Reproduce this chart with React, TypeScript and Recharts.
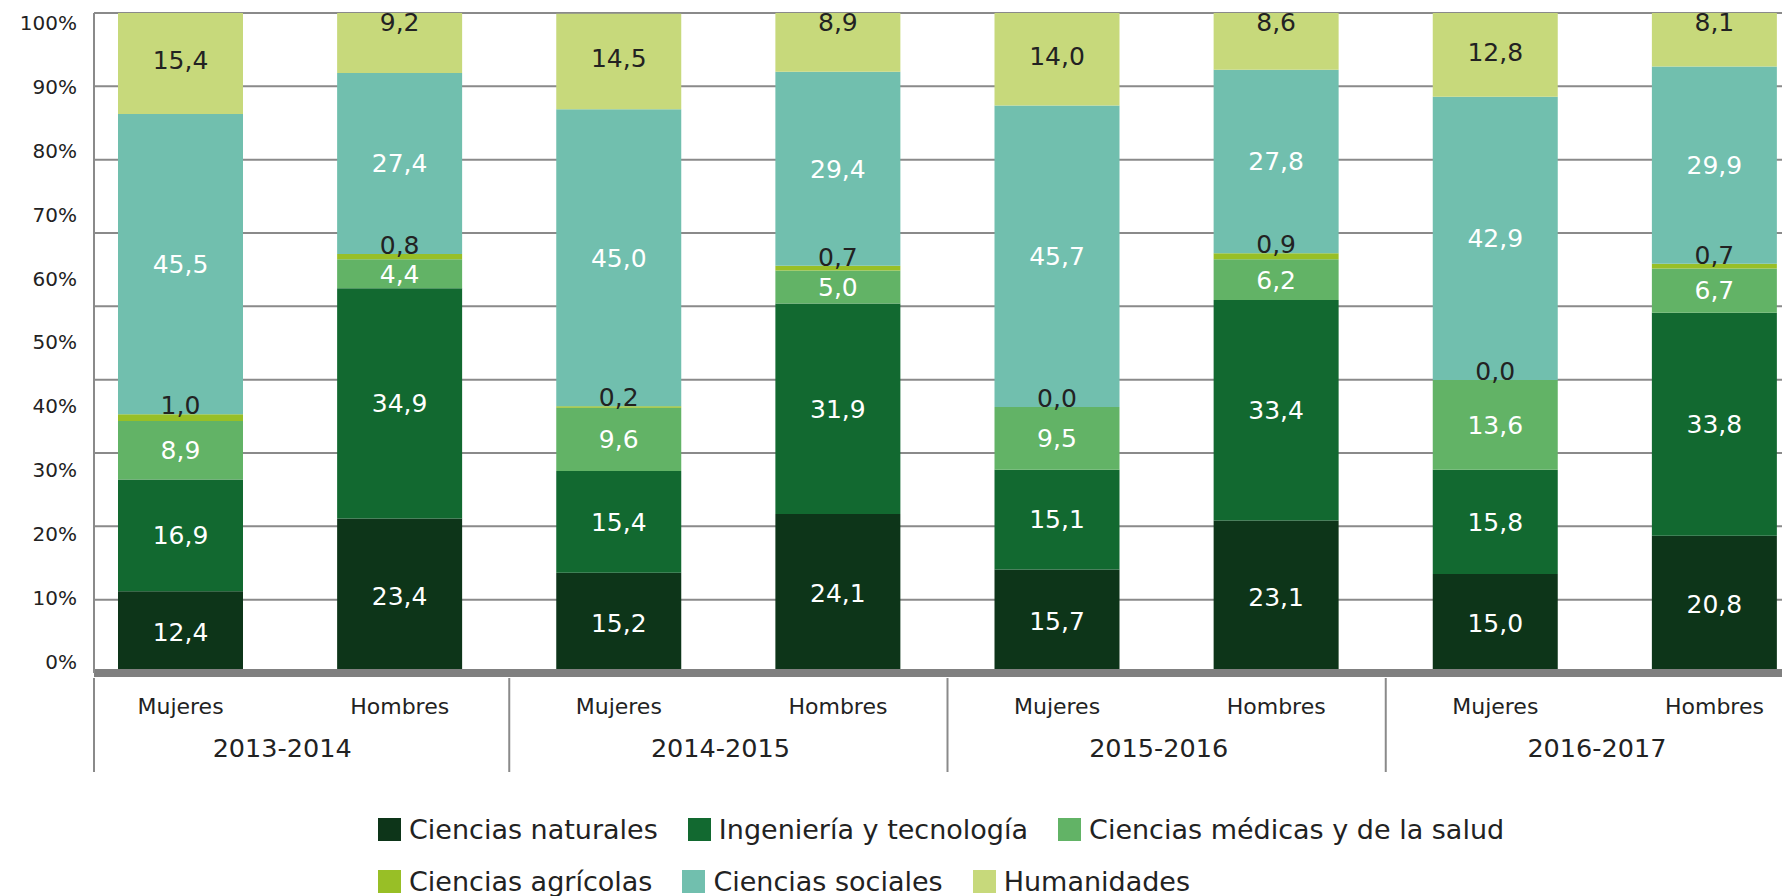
import { Bar, BarChart, CartesianGrid, LabelList, Legend, XAxis, YAxis } from "recharts";

// periods and the two bars drawn inside each one
const periodos = ["2013-2014", "2014-2015", "2015-2016", "2016-2017"];
const sexos = ["Mujeres", "Hombres"];

// % per field, order: M13, H13, M14, H14, M15, H15, M16, H16
const naturales = [12.4, 23.4, 15.2, 24.1, 15.7, 23.1, 15.0, 20.8];
const ingenieria = [16.9, 34.9, 15.4, 31.9, 15.1, 33.4, 15.8, 33.8];
const medicas = [8.9, 4.4, 9.6, 5.0, 9.5, 6.2, 13.6, 6.7];
const agricolas = [1.0, 0.8, 0.2, 0.7, 0.0, 0.9, 0.0, 0.7];
const sociales = [45.5, 27.4, 45.0, 29.4, 45.7, 27.8, 42.9, 29.9];
const humanidades = [15.4, 9.2, 14.5, 8.9, 14.0, 8.6, 12.8, 8.1];

const yTicks = [0, 10, 20, 30, 40, 50, 60, 70, 80, 90, 100];
const gridTicks = [0, 1, 2, 3, 4, 5, 6, 7, 8, 9];

const seriesKeys = ["naturales", "ingenieria", "medicas", "agricolas", "sociales", "humanidades"];
const seriesNames = [
	"Ciencias naturales",
	"Ingeniería y tecnología",
	"Ciencias médicas y de la salud",
	"Ciencias agrícolas",
	"Ciencias sociales",
	"Humanidades",
];
const seriesValues = [naturales, ingenieria, medicas, agricolas, sociales, humanidades];

const COLORS = ["#0d3519", "#126930", "#62b366", "#98bf26", "#71bfae", "#c7d97b"];
const TEXT = "#222222";
const GRID = "#8a8a8a";
const FONT = '"DejaVu Sans", sans-serif';
const LABEL_SIZE = 25;
const PAD_LEFT = -23; // first band starts left of the axis line in the original

const chartData = periodos.flatMap((periodo, p) =>
	sexos.map((sexo, s) => {
		const i = p * sexos.length + s;
		const row: any = { periodo, sexo };
		seriesKeys.forEach((key, k) => { row[key] = seriesValues[k][i]; });
		return row;
	})
);

const fmt = (v: any) => Number(v).toFixed(1).replace(".", ",");

const YearTick = (props: any) => {
	const { x, y, payload, index } = props;
	const half = payload?.offset ?? 0;
	const sepX = index === 0 ? x - half - PAD_LEFT : x - half;
	return (
		<g>
			<line x1={sepX} x2={sepX} y1={y - 61} y2={y + 33} stroke={GRID} strokeWidth={2} />
			<text x={x - 8} y={y} dy="0.71em" textAnchor="middle" fontSize={25.5} fill={TEXT}>
				{payload.value}
			</text>
		</g>
	);
};

// humanities labels: centred on the women's bars, tucked at the top of the men's
const HumanLabel = (props: any) => {
	const { x, y, width, height, value, index } = props;
	const cx = Number(x) + Number(width) / 2;
	const cy = index % 2 === 0 ? Number(y) + Number(height) / 2 - 3 : Number(y) + 9;
	return (
		<text x={cx} y={cy} dy="0.355em" textAnchor="middle" fontSize={LABEL_SIZE} fill={TEXT}>
			{fmt(value)}
		</text>
	);
};

// agricultural share sits on the bottom edge of the social-sciences block,
// so it still shows when the agricultural segment is 0
const AgriLabel = (props: any) => {
	const { x, y, width, height, value } = props;
	const cx = Number(x) + Number(width) / 2;
	const base = Number(y) + Number(height);
	return (
		<text x={cx} y={base} textAnchor="middle" fontSize={LABEL_SIZE} fill={TEXT}>
			{fmt(value)}
		</text>
	);
};

const renderLegend = () => {
	const items = seriesNames.map((name, i) => ({ name, color: COLORS[i] }));
	const rows = [items.slice(0, 3), items.slice(3)];
	return (
		<div style={{ height: 123, paddingTop: 45, paddingLeft: 378, boxSizing: "border-box", fontFamily: FONT }}>
			{rows.map((row, r) => (
				<div key={r} style={{ display: "flex", alignItems: "center", height: 23, marginBottom: r === 0 ? 29 : 0 }}>
					{row.map(item => (
						<div key={item.name} style={{ display: "flex", alignItems: "center", marginRight: 30 }}>
							<span style={{ display: "inline-block", width: 23, height: 23, background: item.color, marginRight: 8 }} />
							<span style={{ fontSize: 27, lineHeight: "23px", color: TEXT, whiteSpace: "nowrap" }}>{item.name}</span>
						</div>
					))}
				</div>
			))}
		</div>
	);
};

export default function App() {
	return (
		<div style={{ position: "fixed", left: 0, top: 0, width: 1782, height: 896, overflow: "hidden", background: "#fff", fontFamily: FONT }}>
			<BarChart width={1824} height={896} data={chartData} margin={{ top: 13, right: 0, bottom: 0, left: 0 }}>
				<CartesianGrid vertical={false} stroke={GRID} strokeWidth={2} />
				<XAxis
					dataKey="sexo"
					interval={0}
					height={52}
					padding={{ left: PAD_LEFT, right: 0 }}
					axisLine={{ stroke: "#808080", strokeWidth: 8 }}
					tickLine={false}
					tickSize={0}
					tickMargin={25}
					tick={{ fontSize: 22, fill: TEXT }}
				/>
				<XAxis
					xAxisId="year"
					dataKey="periodo"
					allowDuplicatedCategory={false}
					interval={0}
					height={48}
					padding={{ left: PAD_LEFT, right: 0 }}
					axisLine={false}
					tickLine={false}
					tickSize={0}
					tickMargin={14}
					tick={<YearTick />}
				/>
				<YAxis yAxisId="lbl"
					type="number"
					domain={[-1.72, 101.53]}
					ticks={yTicks}
					allowDataOverflow
					width={94}
					axisLine={{ stroke: GRID, strokeWidth: 2 }}
					tickLine={false}
					tickSize={0}
					tickMargin={17}
					tickFormatter={(v: number) => `${v}%`}
					tick={{ fontSize: 20, fill: TEXT }}
				/>
				<YAxis yAxisId={0} hide width={0} type="number" domain={[0, 9]} ticks={gridTicks} allowDataOverflow />
				<YAxis yAxisId="pct" hide width={0} type="number" domain={[0, 100]} allowDataOverflow />
				<Legend verticalAlign="bottom" content={renderLegend} />
				{seriesKeys.map((key, k) => (
					<Bar
						key={key}
						yAxisId="pct"
						dataKey={key}
						name={seriesNames[k]}
						stackId="a"
						fill={COLORS[k]}
						barSize={125}
						isAnimationActive={false}
					>
						{key === "humanidades" && <LabelList dataKey={key} content={<HumanLabel />} />}
						{key === "sociales" && <LabelList dataKey="agricolas" content={<AgriLabel />} />}
						{key !== "humanidades" && key !== "agricolas" && (
							<LabelList dataKey={key} position="center" formatter={fmt} fill="#ffffff" fontSize={LABEL_SIZE} />
						)}
					</Bar>
				))}
			</BarChart>
		</div>
	);
}
